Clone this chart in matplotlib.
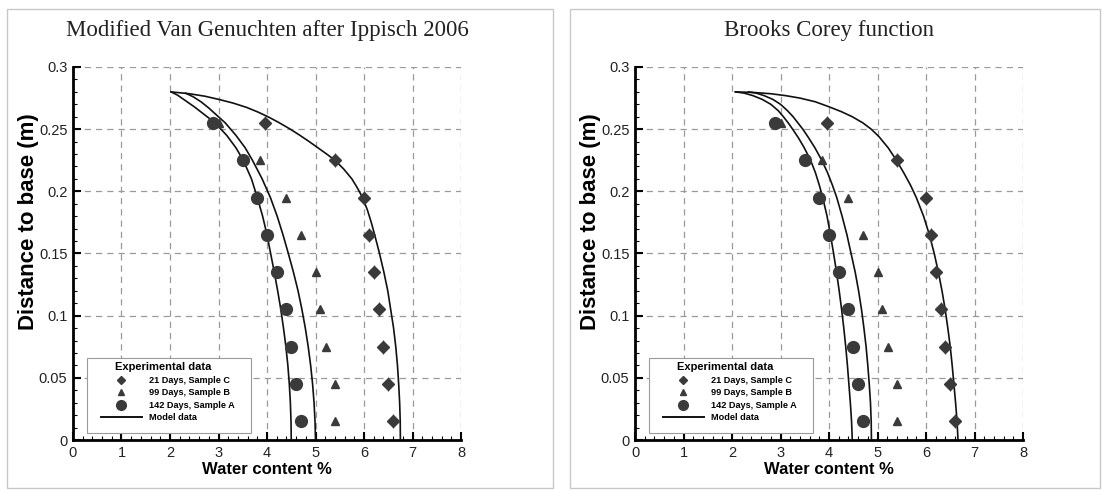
import numpy as np
import matplotlib
matplotlib.use("Agg")
import matplotlib.pyplot as plt
from matplotlib.lines import Line2D
from matplotlib.patches import Rectangle
from matplotlib.ticker import MultipleLocator

plt.rcParams['font.family'] = ['Liberation Sans', 'DejaVu Sans']

# measured moisture profiles (height above base, water content %)
heights = [0.255, 0.225, 0.195, 0.165, 0.135, 0.105, 0.075, 0.045, 0.015]
sample_c = [3.95, 5.41, 6.0, 6.1, 6.2, 6.3, 6.4, 6.5, 6.6]      # 21 days
sample_b = [3.0, 3.86, 4.4, 4.71, 5.0, 5.1, 5.21, 5.4, 5.4]     # 99 days
sample_a = [2.89, 3.5, 3.8, 4.0, 4.2, 4.4, 4.5, 4.6, 4.7]       # 142 days

# model profiles, modified van Genuchten (Ippisch 2006)
vg_a_y = [0.280, 0.2775, 0.274, 0.268, 0.262, 0.255, 0.245, 0.235, 0.225, 0.21, 0.195, 0.18,
          0.165, 0.15, 0.135, 0.12, 0.105, 0.09, 0.075, 0.06, 0.045, 0.03, 0.015, 0.0]
vg_a_x = [2.02, 2.15, 2.28, 2.50, 2.70, 2.93, 3.17, 3.36, 3.51, 3.68, 3.80, 3.91,
          4.00, 4.075, 4.15, 4.22, 4.285, 4.34, 4.39, 4.43, 4.46, 4.482, 4.495, 4.50]
vg_b_y = [0.279, 0.276, 0.272, 0.267, 0.261, 0.255, 0.245, 0.235, 0.225, 0.21, 0.195, 0.18,
          0.165, 0.15, 0.135, 0.12, 0.105, 0.09, 0.075, 0.06, 0.045, 0.03, 0.015, 0.0]
vg_b_x = [2.32, 2.48, 2.64, 2.80, 2.97, 3.14, 3.36, 3.55, 3.70, 3.90, 4.07, 4.21,
          4.33, 4.44, 4.545, 4.64, 4.72, 4.79, 4.85, 4.90, 4.94, 4.97, 4.99, 5.00]
vg_c_y = [0.280, 0.2785, 0.2765, 0.274, 0.271, 0.2675, 0.264, 0.260, 0.255, 0.250, 0.245,
          0.240, 0.235, 0.230, 0.225, 0.218, 0.210, 0.203, 0.195, 0.185, 0.175, 0.165, 0.150,
          0.135, 0.120, 0.105, 0.090, 0.075, 0.060, 0.045, 0.030, 0.015, 0.0]
vg_c_x = [2.02, 2.40, 2.72, 3.00, 3.30, 3.58, 3.80, 4.02, 4.26, 4.48, 4.68,
          4.87, 5.05, 5.23, 5.40, 5.58, 5.75, 5.86, 5.97, 6.07, 6.15, 6.22, 6.32,
          6.41, 6.49, 6.55, 6.61, 6.655, 6.69, 6.715, 6.735, 6.747, 6.75]

# model profiles, Brooks Corey
bc_a_y = [0.280, 0.279, 0.277, 0.274, 0.270, 0.265, 0.260, 0.255, 0.250, 0.243, 0.235, 0.225,
          0.215, 0.205, 0.195, 0.180, 0.165, 0.150, 0.135, 0.120, 0.105, 0.090, 0.075, 0.060,
          0.045, 0.030, 0.015, 0.0]
bc_a_x = [2.07, 2.25, 2.43, 2.62, 2.80, 2.95, 3.06, 3.16, 3.25, 3.37, 3.49, 3.62,
          3.72, 3.80, 3.87, 3.96, 4.03, 4.095, 4.155, 4.21, 4.26, 4.305, 4.345, 4.38,
          4.41, 4.44, 4.465, 4.48]
bc_b_y = [0.280, 0.279, 0.277, 0.274, 0.270, 0.265, 0.260, 0.255, 0.250, 0.243, 0.235, 0.225,
          0.215, 0.205, 0.195, 0.180, 0.165, 0.150, 0.135, 0.120, 0.105, 0.090, 0.075, 0.060,
          0.045, 0.030, 0.015, 0.0]
bc_b_x = [2.34, 2.50, 2.66, 2.84, 3.00, 3.14, 3.26, 3.36, 3.46, 3.58, 3.71, 3.85,
          3.97, 4.07, 4.16, 4.27, 4.37, 4.455, 4.54, 4.61, 4.67, 4.72, 4.765, 4.80,
          4.83, 4.855, 4.87, 4.875]
bc_c_y = [0.280, 0.2795, 0.2785, 0.277, 0.275, 0.272, 0.268, 0.264, 0.260, 0.255, 0.250,
          0.244, 0.235, 0.225, 0.215, 0.205, 0.195, 0.180, 0.165, 0.150, 0.135, 0.120,
          0.105, 0.090, 0.075, 0.060, 0.045, 0.030, 0.015, 0.0]
bc_c_x = [2.07, 2.45, 2.80, 3.10, 3.40, 3.72, 4.00, 4.26, 4.48, 4.70, 4.87,
          5.03, 5.22, 5.39, 5.54, 5.68, 5.80, 5.95, 6.07, 6.17, 6.255, 6.33,
          6.395, 6.45, 6.50, 6.54, 6.575, 6.61, 6.64, 6.66]

titles = ['Modified Van Genuchten after Ippisch 2006', 'Brooks Corey function']
models = [[(vg_a_x, vg_a_y), (vg_b_x, vg_b_y), (vg_c_x, vg_c_y)],
          [(bc_a_x, bc_a_y), (bc_b_x, bc_b_y), (bc_c_x, bc_c_y)]]
legend_labels = ['21 Days, Sample C', '99 Days, Sample B', '142 Days, Sample A', 'Model data']

W, H = 1107, 490
mk = '#3a3a3a'
fig = plt.figure(figsize=(W / 100, H / 100), dpi=100)

# light panel frames
for x0, x1 in [(7, 553), (570, 1100)]:
    fig.add_artist(Rectangle((x0 / W, 1 - 488 / H), (x1 - x0) / W, (488 - 9) / H,
                             transform=fig.transFigure, fill=False,
                             edgecolor='#c8c8c8', lw=1.0))

for k, left in enumerate([73, 635]):
    ax = fig.add_axes([left / W, (H - 440) / H, 388 / W, 373 / H])
    ax.set_xlim(0, 8)
    ax.set_ylim(0, 0.3)
    ax.xaxis.set_major_locator(MultipleLocator(1))
    ax.xaxis.set_minor_locator(MultipleLocator(0.2))
    ax.set_yticks([0, 0.05, 0.1, 0.15, 0.2, 0.25, 0.3])
    ax.set_yticklabels(['0', '0.05', '0.1', '0.15', '0.2', '0.25', '0.3'])
    ax.yaxis.set_minor_locator(MultipleLocator(0.01))
    ax.spines['top'].set_visible(False)
    ax.spines['right'].set_visible(False)
    ax.spines['left'].set_linewidth(2)
    ax.spines['bottom'].set_linewidth(2)
    ax.tick_params(which='major', direction='in', length=6, width=1.5,
                   labelsize=10.5, labelcolor='#222222')
    ax.tick_params(which='minor', direction='in', length=3, width=0.8)
    ax.tick_params(axis='x', which='major', pad=4)
    ax.tick_params(axis='y', which='major', pad=4)
    ax.grid(which='major', ls=(0, (5, 4)), color='#9a9a9a', lw=0.9)

    for mx, my in models[k]:
        ax.plot(mx, my, color='#111111', lw=1.2, zorder=3)

    ax.plot(sample_c, heights, ls='none', marker='D', ms=6, color=mk, zorder=4)
    ax.plot(sample_c, heights, ls='none', marker='|', ms=10, mew=0.8, color=mk, zorder=4)
    ax.plot(sample_b, heights, ls='none', marker='^', ms=6, color=mk, zorder=4)
    ax.plot(sample_a, heights, ls='none', marker='o', ms=8.5, color=mk, zorder=4)

    ax.text(0.5, 1.097, titles[k], transform=ax.transAxes, ha='center', va='center',
            fontsize=16.5, family='Liberation Serif', color='#222222')
    ax.set_xlabel('Water content %', fontsize=12, fontweight='bold')
    ax.xaxis.set_label_coords(0.5, -0.058)
    ax.set_ylabel('Distance to base (m)', fontsize=16, fontweight='bold')
    ax.yaxis.set_label_coords(-0.088, 0.585)

    # legend box
    ax.add_patch(Rectangle((0.036, 0.019), 0.423, 0.201, transform=ax.transAxes,
                           facecolor='white', edgecolor='#9a9a9a', lw=0.8, zorder=5))
    ax.text(0.108, 0.196, 'Experimental data', transform=ax.transAxes, va='center',
            ha='left', fontsize=8, fontweight='bold', zorder=6)
    handles = [Line2D([], [], ls='none', marker='D', ms=4.5, color=mk),
               Line2D([], [], ls='none', marker='^', ms=5, color=mk),
               Line2D([], [], ls='none', marker='o', ms=7, color=mk),
               Line2D([], [], color='#111111', lw=1.4)]
    leg = ax.legend(handles, legend_labels, loc='upper left', bbox_to_anchor=(0.072, 0.172),
                    frameon=False, borderpad=0, borderaxespad=0,
                    prop={'weight': 'bold', 'size': 6.6}, handlelength=4.45,
                    handletextpad=0.76, labelspacing=0.38)
    leg.set_zorder(7)

fig.savefig('out.png', dpi=100)
